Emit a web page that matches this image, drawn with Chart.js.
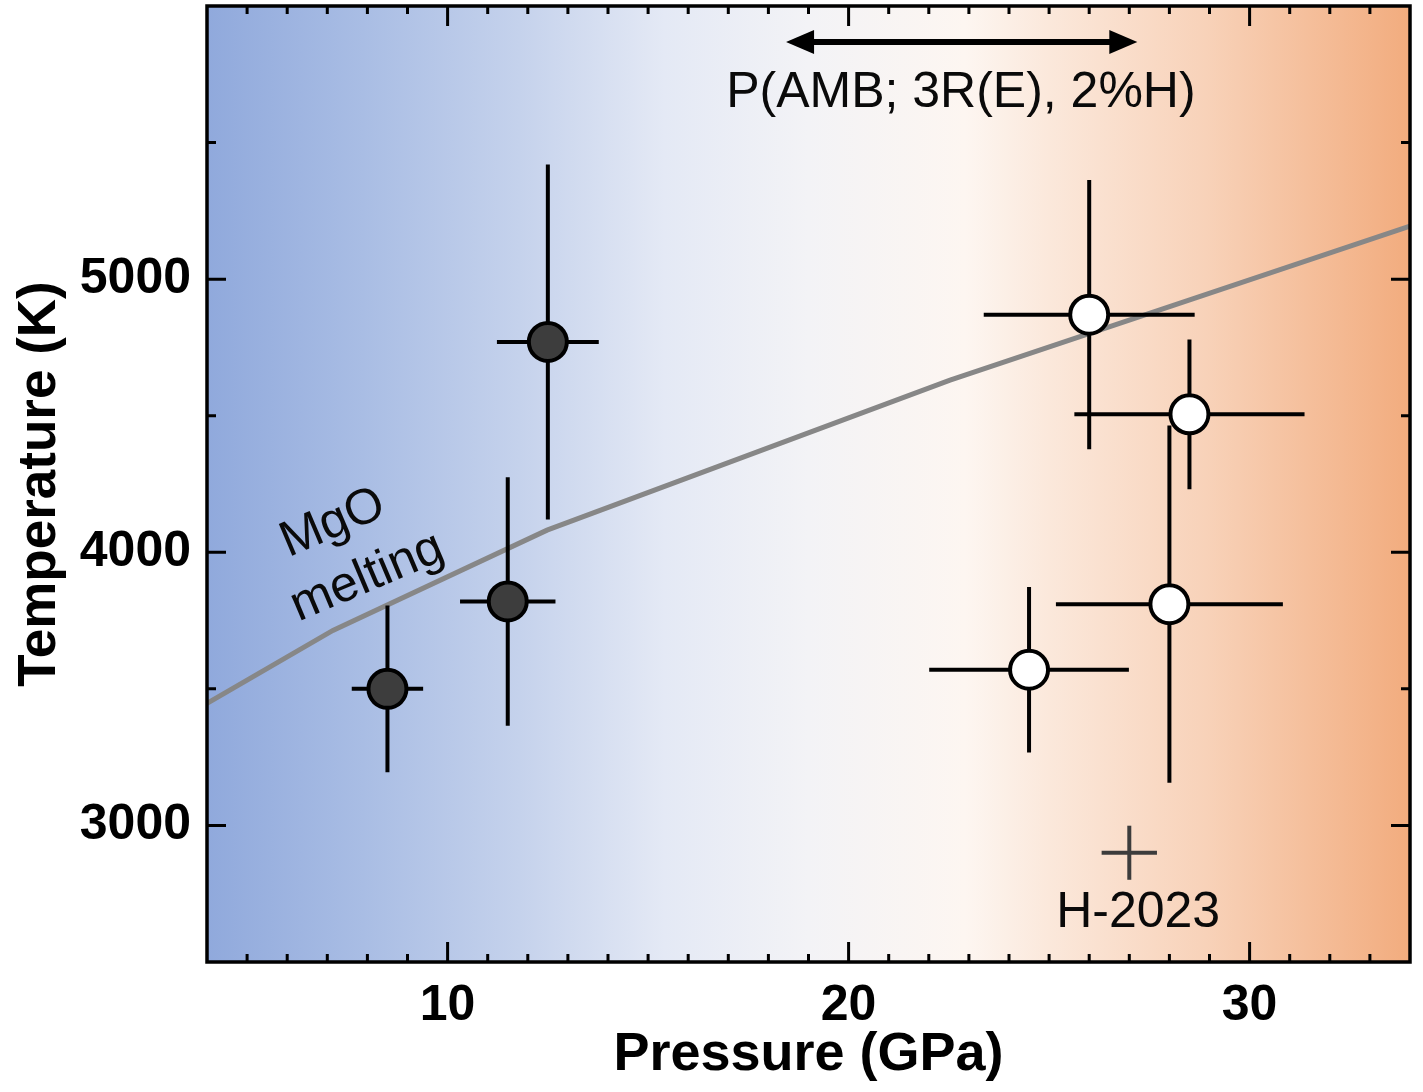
<!DOCTYPE html>
<html>
<head>
<meta charset="utf-8">
<script src="https://cdn.jsdelivr.net/npm/chart.js@4.4.1/dist/chart.umd.min.js"></script>
<style>
  html, body { margin: 0; padding: 0; background: #fff; }
</style>
</head>
<body>
<canvas id="ptChart" width="1423" height="1092"></canvas>
<script>
// filled symbols (P in GPa, T in K)
const filledP = [8.5, 11.5, 12.5];
const filledT = [3500, 3820, 4770];
const filledPErr = [0.89, 1.19, 1.27];
const filledTErr = [305, 455, 650];

// open symbols
const openP = [26.0, 28.5, 28.0, 24.5];
const openT = [4870, 4505, 3810, 3570];
const openPErr = [2.63, 2.87, 2.83, 2.49];
const openTErr = [493, 274, 654, 303];

// H-2023 cross
const h2023P = [27.0];
const h2023T = [2900];
const h2023PErr = [0.69];
const h2023TErr = [99];

// MgO melting curve
const meltP = [4.0, 7.14, 12.48, 22.53, 34.0];
const meltT = [3447, 3714, 4081, 4630, 5194];

// pressure range arrow for P(AMB; ...)
const arrowP = [18.44, 27.2];
const arrowT = 5868;

// ticks
const xMajor = [10, 20, 30];
const xMinor = [5, 6, 7, 8, 9, 11, 12, 13, 14, 15, 16, 17, 18, 19, 21, 22, 23, 24, 25, 26, 27, 28, 29, 31, 32, 33];
const yMajor = [3000, 4000, 5000];
const yMinor = [3500, 4500, 5500];

// text labels placed in data units
const noteText = ['P(AMB; 3R(E), 2%H)', 'H-2023', 'MgO', 'melting'];
const noteP = [22.8, 27.22, 7.14, 8.0];
const noteT = [5680, 2678, 4106, 3908];
const noteRot = [0, 0, -23, -23];

const FONT = '"Liberation Sans", Arial, Helvetica, sans-serif';

const datasets = [];

function addErrorBars(P, T, dP, dT, color) {
  for (let i = 0; i < P.length; i++) {
    const style = { showLine: true, borderColor: color, borderWidth: 4, pointRadius: 0, borderCapStyle: 'butt', order: 1 };
    datasets.push(Object.assign({ data: [{ x: P[i] - dP[i], y: T[i] }, { x: P[i] + dP[i], y: T[i] }] }, style));
    datasets.push(Object.assign({ data: [{ x: P[i], y: T[i] - dT[i] }, { x: P[i], y: T[i] + dT[i] }] }, style));
  }
}

datasets.push({
  data: meltP.map((p, i) => ({ x: p, y: meltT[i] })),
  showLine: true, borderColor: '#878787', borderWidth: 5, pointRadius: 0, tension: 0, order: 2
});
addErrorBars(filledP, filledT, filledPErr, filledTErr, '#000');
addErrorBars(openP, openT, openPErr, openTErr, '#000');
addErrorBars(h2023P, h2023T, h2023PErr, h2023TErr, '#3c3c3c');
datasets.push({
  data: filledP.map((p, i) => ({ x: p, y: filledT[i] })),
  pointRadius: 19, pointBorderWidth: 4, pointBackgroundColor: '#3d3d3d', pointBorderColor: '#000', order: 0
});
datasets.push({
  data: openP.map((p, i) => ({ x: p, y: openT[i] })),
  pointRadius: 19, pointBorderWidth: 4, pointBackgroundColor: '#fff', pointBorderColor: '#000', order: 0
});

const bgPlugin = {
  id: 'bg',
  beforeDraw(chart) {
    const { ctx, chartArea: a } = chart;
    const g = ctx.createLinearGradient(a.left, 0, a.right, 0);
    g.addColorStop(0, '#90a9dc');
    g.addColorStop(0.13, '#a9bde4');
    g.addColorStop(0.26, '#c5d2ec');
    g.addColorStop(0.38, '#e4e9f5');
    g.addColorStop(0.5, '#f3f3f6');
    g.addColorStop(0.63, '#fdf6f1');
    g.addColorStop(0.7, '#fbe8db');
    g.addColorStop(0.83, '#f8d2b9');
    g.addColorStop(1, '#f2ac7e');
    ctx.save();
    ctx.fillStyle = g;
    ctx.fillRect(a.left, a.top, a.right - a.left, a.bottom - a.top);
    ctx.restore();
  }
};

const framePlugin = {
  id: 'frame',
  afterDatasetsDraw(chart) {
    const { ctx, chartArea: a, scales: { x, y } } = chart;
    ctx.save();
    ctx.strokeStyle = '#000';
    ctx.lineWidth = 3;
    const tick = (vals, len) => {
      vals.forEach(v => {
        const px = x.getPixelForValue(v);
        ctx.beginPath();
        ctx.moveTo(px, a.bottom); ctx.lineTo(px, a.bottom - len);
        ctx.moveTo(px, a.top); ctx.lineTo(px, a.top + len);
        ctx.stroke();
      });
    };
    const ytick = (vals, len) => {
      vals.forEach(v => {
        const py = y.getPixelForValue(v);
        ctx.beginPath();
        ctx.moveTo(a.left, py); ctx.lineTo(a.left + len, py);
        ctx.moveTo(a.right, py); ctx.lineTo(a.right - len, py);
        ctx.stroke();
      });
    };
    tick(xMajor, 20); tick(xMinor, 8);
    ytick(yMajor, 19); ytick(yMinor, 9);
    ctx.lineWidth = 3.5;
    ctx.strokeRect(a.left, a.top, a.right - a.left, a.bottom - a.top);
    ctx.restore();
  }
};

const notePlugin = {
  id: 'notes',
  afterDatasetsDraw(chart) {
    const { ctx, scales: { x, y } } = chart;
    ctx.save();
    // double-headed arrow
    const x1 = x.getPixelForValue(arrowP[0]);
    const x2 = x.getPixelForValue(arrowP[1]);
    const ay = y.getPixelForValue(arrowT);
    const head = 28, half = 12;
    ctx.strokeStyle = '#000';
    ctx.fillStyle = '#000';
    ctx.lineWidth = 6;
    ctx.beginPath();
    ctx.moveTo(x1 + head - 2, ay); ctx.lineTo(x2 - head + 2, ay);
    ctx.stroke();
    ctx.beginPath();
    ctx.moveTo(x1, ay); ctx.lineTo(x1 + head, ay - half); ctx.lineTo(x1 + head, ay + half); ctx.closePath();
    ctx.fill();
    ctx.beginPath();
    ctx.moveTo(x2, ay); ctx.lineTo(x2 - head, ay - half); ctx.lineTo(x2 - head, ay + half); ctx.closePath();
    ctx.fill();
    // labels
    ctx.font = '50px ' + FONT;
    ctx.textAlign = 'center';
    ctx.textBaseline = 'middle';
    ctx.fillStyle = '#0a0a0a';
    noteText.forEach((t, i) => {
      ctx.save();
      ctx.translate(x.getPixelForValue(noteP[i]), y.getPixelForValue(noteT[i]));
      ctx.rotate(noteRot[i] * Math.PI / 180);
      ctx.fillText(t, 0, 0);
      ctx.restore();
    });
    ctx.restore();
  }
};

const noPad = s => { s.paddingTop = 0; s.paddingBottom = 0; s.paddingLeft = 0; s.paddingRight = 0; };

new Chart(document.getElementById('ptChart'), {
  type: 'scatter',
  data: { datasets: datasets },
  options: {
    responsive: false,
    animation: false,
    devicePixelRatio: 1,
    layout: { autoPadding: false, padding: { top: 6, right: 13, left: 0, bottom: 0 } },
    plugins: { legend: { display: false }, tooltip: { enabled: false } },
    scales: {
      x: {
        type: 'linear', min: 4, max: 34,
        grid: { display: false, drawTicks: false },
        border: { display: false },
        afterBuildTicks: s => { s.ticks = xMajor.map(v => ({ value: v })); },
        afterFit: s => { s.height = 130; noPad(s); },
        ticks: {
          color: '#000', padding: 14,
          font: { family: FONT, size: 50, weight: 'bold' },
          callback: v => String(v)
        },
        title: {
          display: true, text: 'Pressure (GPa)', color: '#000',
          font: { family: FONT, size: 54, weight: 'bold' },
          padding: { top: 0, bottom: 4 }
        }
      },
      y: {
        type: 'linear', min: 2500, max: 6000,
        grid: { display: false, drawTicks: false },
        border: { display: false },
        afterBuildTicks: s => { s.ticks = yMajor.map(v => ({ value: v })); },
        afterFit: s => { s.width = 207; noPad(s); },
        ticks: {
          color: '#000', padding: 16,
          font: { family: FONT, size: 50, weight: 'bold' },
          callback: v => String(v)
        },
        title: {
          display: true, text: 'Temperature (K)', color: '#000',
          font: { family: FONT, size: 53, weight: 'bold' },
          padding: { top: 9, bottom: 0 }
        }
      }
    }
  },
  plugins: [bgPlugin, framePlugin, notePlugin]
});
</script>
</body>
</html>
